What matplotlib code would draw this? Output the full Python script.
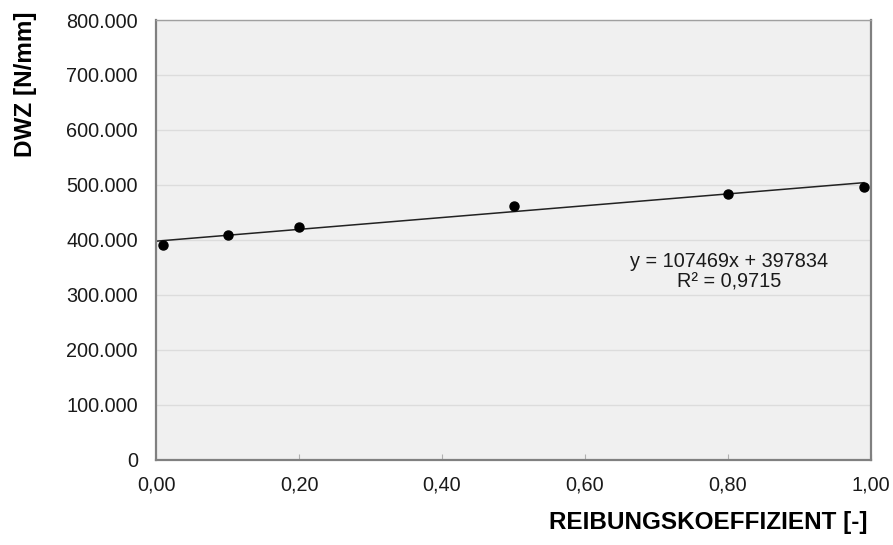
import numpy as np
import matplotlib.pyplot as plt
from matplotlib.ticker import FuncFormatter

# Measured data (friction coefficient vs. DWZ)
reibung = [0.01, 0.10, 0.20, 0.50, 0.80, 0.99]
dwz = [390000, 409000, 424000, 461000, 484000, 496000]

# Excel trendline as shown in the chart
slope = 107469
intercept = 397834
r2 = "0,9715"

x_ticks = [0.0, 0.2, 0.4, 0.6, 0.8, 1.0]
y_ticks = [0, 100000, 200000, 300000, 400000, 500000, 600000, 700000, 800000]

plt.rcParams["font.family"] = ["Liberation Sans", "DejaVu Sans"]

fig = plt.figure(figsize=(8.93, 5.45), dpi=100)
ax = fig.add_axes([0.1747, 0.156, 0.8007, 0.8073])
ax.set_facecolor("#f0f0f0")

ax.set_xlim(0, 1)
ax.set_ylim(0, 800000)
ax.set_xticks(x_ticks)
ax.set_yticks(y_ticks)
ax.xaxis.set_major_formatter(FuncFormatter(lambda v, p: f"{v:.2f}".replace(".", ",")))
ax.yaxis.set_major_formatter(FuncFormatter(lambda v, p: f"{v:,.0f}".replace(",", ".")))

ax.grid(axis="y", color="#dcdcdc", linewidth=1)
ax.set_axisbelow(True)

for side in ["left", "bottom", "right"]:
    ax.spines[side].set_color("#808080")
    ax.spines[side].set_linewidth(1.6)
ax.spines["top"].set_color("#a0a0a0")
ax.spines["top"].set_linewidth(1.0)

ax.tick_params(axis="x", direction="in", length=4, color="#b0b0b0", pad=11,
               labelsize=14.3, labelcolor="#1a1a1a")
ax.tick_params(axis="y", direction="in", length=0, pad=13,
               labelsize=14.3, labelcolor="#1a1a1a")

# trendline
xl = np.array([0.0, max(reibung)])
ax.plot(xl, slope * xl + intercept, color="#222222", linewidth=1.1, zorder=2)

ax.plot(reibung, dwz, "o", color="black", markersize=6.5, zorder=3, clip_on=False)

ax.text(0.801, 343000, f"y = {slope}x + {intercept}\nR² = {r2}",
        ha="center", va="center", fontsize=14.3, color="#1a1a1a", linespacing=1.1)

fig.text(0.028, 0.978, "DWZ [N/mm]", rotation=90, ha="center", va="top",
         fontsize=17.5, fontweight="bold")
fig.text(0.972, 0.042, "REIBUNGSKOEFFIZIENT [-]", ha="right", va="center",
         fontsize=17.5, fontweight="bold")

fig.savefig("out.png", dpi=100)
